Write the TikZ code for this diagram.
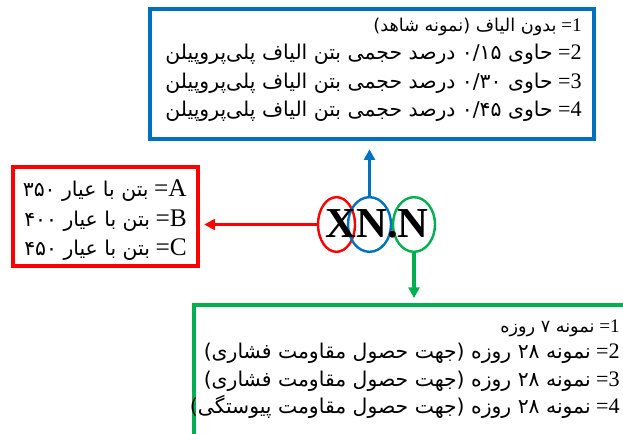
\documentclass[tikz,border=0pt]{standalone}
\usepackage{fontspec}
\setmainfont{Liberation Serif}
\newfontfamily\arabicfont[Script=Arabic,Scale=0.92]{DejaVu Sans}
\TeXXeTstate=1
\usepackage{tikz}
\usetikzlibrary{shapes,calc,arrows.meta,positioning}

\definecolor{mixblue}{RGB}{0,112,192}
\definecolor{gradered}{RGB}{255,0,0}
\definecolor{agegreen}{RGB}{0,176,80}

\newcommand{\bigtag}[1]{{\fontsize{19}{22}\selectfont\beginL #1\endL=}}

\tikzset{
  boxframe/.style={draw=#1, line width=2.3pt, rectangle, inner sep=0pt},
  ringmark/.style={draw=#1, line width=1.8pt, ellipse, inner sep=0pt, minimum height=41pt},
  pointer/.style={draw=#1, line width=2.5pt, -{Triangle[length=8pt,width=8pt]}},
  txtline/.style={anchor=base east, inner sep=0pt, font=\fontsize{16.6}{20}\selectfont},
  txtsmall/.style={txtline, font=\fontsize{14.4}{17}\selectfont},
}

\begin{document}
\begin{tikzpicture}[x=0.75pt,y=-0.75pt]
                \useasboundingbox (0,0) rectangle (623,434);
                \clip (0,0) rectangle (623,434);
                % rings round the code
                \node[ringmark=gradered, minimum width=27.75pt] (ringA) at (336.5,224.5) {};
                \node[ringmark=mixblue, minimum width=32.25pt] (ringN) at (369.5,224.5) {};
                \node[ringmark=agegreen, minimum width=31.5pt] (ringT) at (414,224.5) {};
                \node[font=\fontsize{32}{36}\selectfont\bfseries, inner sep=0pt] (code) at (377,224) {XN.N};
                % frames
                \node[boxframe=mixblue, minimum width=333pt, minimum height=97.5pt] (mixbox) at (372,74) {};
                \node[boxframe=gradered, minimum width=138.75pt, minimum height=74.25pt] (gradebox) at (105.5,216.5) {};
                \node[boxframe=agegreen, minimum width=334.5pt, minimum height=108.75pt] (agebox) at (417,377.5) {};
                \draw[pointer=mixblue, shorten >=6.5pt] (ringN.north) -- (ringN.north |- mixbox.south);
                \draw[pointer=gradered, shorten >=3.5pt] (ringA.west) -- (ringA.west -| gradebox.east);
                \draw[pointer=agegreen, shorten >=4pt] (ringT.south) -- (ringT.south |- agebox.north);
                % fibre content
                \node[txtsmall] (mix1) at (582,32) {\beginR\beginL 1\endL= {\arabicfont بدون الیاف (نمونه شاهد)}\endR};
                \node[txtline] (mix2) at (582,60) {\beginR\beginL 2\endL= {\arabicfont حاوی \beginL۰/۱۵\endL{} درصد حجمی بتن الیاف پلی‌پروپیلن}\endR};
                \node[txtline] (mix3) at (582,89) {\beginR\beginL 3\endL= {\arabicfont حاوی \beginL۰/۳۰\endL{} درصد حجمی بتن الیاف پلی‌پروپیلن}\endR};
                \node[txtline] (mix4) at (582,117) {\beginR\beginL 4\endL= {\arabicfont حاوی \beginL۰/۴۵\endL{} درصد حجمی بتن الیاف پلی‌پروپیلن}\endR};
                % cement grade
                \node[txtline] (grade1) at (187,197) {\beginR\bigtag{A} {\arabicfont بتن با عیار \beginL۳۵۰\endL}\endR};
                \node[txtline] (grade2) at (187,227) {\beginR\bigtag{B} {\arabicfont بتن با عیار \beginL۴۰۰\endL}\endR};
                \node[txtline] (grade3) at (187,255) {\beginR\bigtag{C} {\arabicfont بتن با عیار \beginL۴۵۰\endL}\endR};
                % specimen age
                \node[txtsmall] (age1) at (620,332) {\beginR\beginL 1\endL= {\arabicfont نمونه \beginL۷\endL{} روزه}\endR};
                \node[txtline] (age2) at (620,358) {\beginR\beginL 2\endL= {\arabicfont نمونه \beginL۲۸\endL{} روزه (جهت حصول مقاومت فشاری)}\endR};
                \node[txtline] (age3) at (620,386) {\beginR\beginL 3\endL= {\arabicfont نمونه \beginL۲۸\endL{} روزه (جهت حصول مقاومت فشاری)}\endR};
                \node[txtline] (age4) at (620,413) {\beginR\beginL 4\endL= {\arabicfont نمونه \beginL۲۸\endL{} روزه (جهت حصول مقاومت پیوستگی)}\endR};
            \end{tikzpicture}
\end{document}
